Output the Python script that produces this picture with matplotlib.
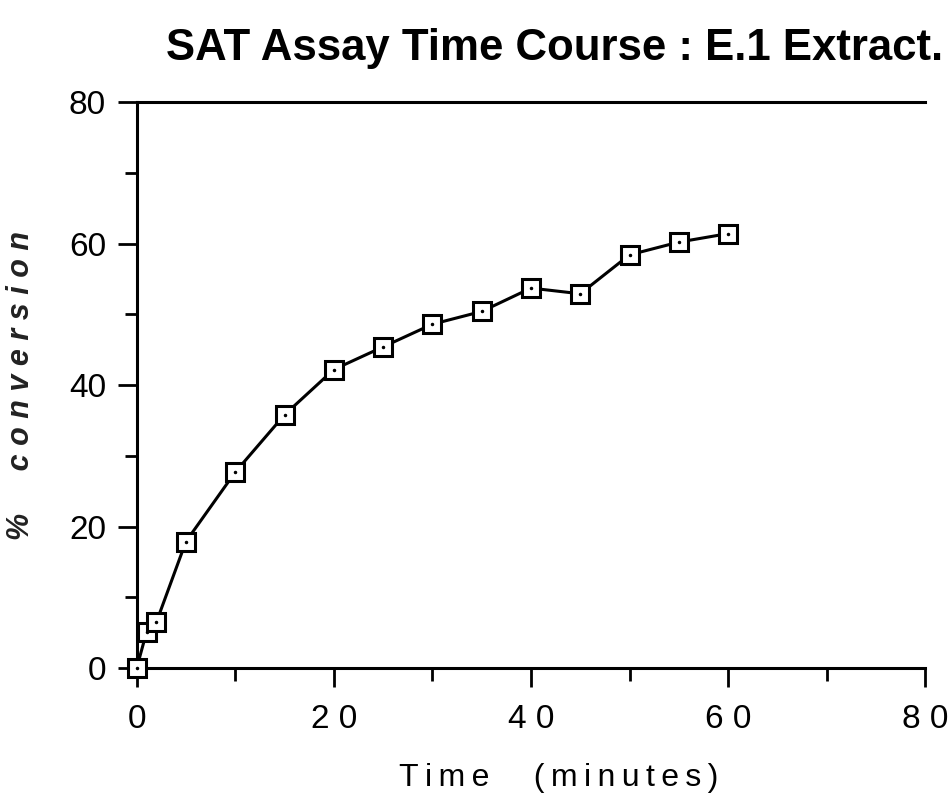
import matplotlib
matplotlib.use("Agg")
import matplotlib.pyplot as plt
from matplotlib.ticker import MultipleLocator

plt.rcParams["font.family"] = ["Liberation Sans", "DejaVu Sans"]

time_min = [0, 1, 2, 5, 10, 15, 20, 25, 30, 35, 40, 45, 50, 55, 60]
conversion = [0, 5.1, 6.5, 17.9, 27.7, 35.8, 42.2, 45.4, 48.6, 50.4, 53.7, 52.9, 58.4, 60.2, 61.4]

x_ticks = [0, 20, 40, 60, 80]
y_ticks = [0, 20, 40, 60, 80]

fig = plt.figure(figsize=(9.49, 8.09), dpi=100)
ax = fig.add_axes([0.144, 0.174, 0.831, 0.700])

ax.plot(time_min, conversion, color="black", linewidth=2.2,
        marker="s", markersize=13, markerfacecolor="white",
        markeredgecolor="black", markeredgewidth=2.2, zorder=3, clip_on=False)
ax.plot(time_min, conversion, linestyle="none", marker=".", markersize=3,
        color="black", zorder=4, clip_on=False)

ax.set_xlim(0, 80)
ax.set_ylim(0, 80)
ax.set_xticks(x_ticks)
ax.set_yticks(y_ticks)
ax.set_xticklabels([" ".join(str(t)) for t in x_ticks])
ax.xaxis.set_minor_locator(MultipleLocator(10))
ax.yaxis.set_minor_locator(MultipleLocator(10))

ax.spines["right"].set_visible(False)
for s in ["left", "bottom", "top"]:
    ax.spines[s].set_linewidth(2.2)

ax.tick_params(axis="both", which="major", direction="out", length=14, width=2,
               labelsize=24, pad=8)
ax.tick_params(axis="both", which="minor", direction="out", length=9, width=2)
ax.tick_params(axis="x", pad=12)

thin = "\u2009"
ax.set_xlabel(thin.join("Time") + "     " + thin.join("(minutes)"), fontsize=23)
ax.xaxis.set_label_coords(0.535, -0.168)
ax.set_ylabel("%     c o n v e r s i o n", fontsize=22, style="italic",
              fontweight="bold", labelpad=24, color="#222222")
ax.set_title("SAT Assay Time Course : E.1 Extract.", fontsize=31.5,
             fontweight="bold", pad=30, x=0.53)

fig.savefig("out.png", dpi=100)
